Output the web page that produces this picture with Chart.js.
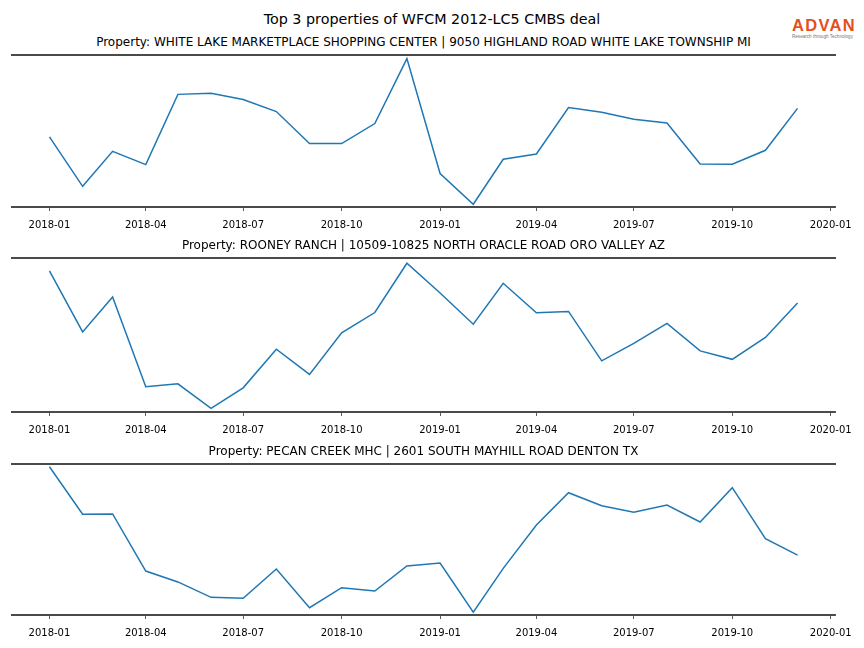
<!DOCTYPE html>
<html>
<head>
<meta charset="utf-8">
<script src="https://cdn.jsdelivr.net/npm/chart.js@4"></script>
<style>
  body { margin: 0; background: #fff; font-family: "DejaVu Sans", sans-serif; }
  #page { position: relative; width: 864px; height: 648px; overflow: hidden; }
  .title { position: absolute; white-space: nowrap; transform: translate(-50%, -50%); color: #000; }
  canvas { position: absolute; left: 0; }
  #logo { position: absolute; left: 792px; top: 16px; width: 66px; }
  #logo .big { font-family: "Liberation Sans", sans-serif; font-weight: bold; font-size: 16.5px; color: #e4501e; letter-spacing: 1.3px; line-height: 18px; }
  #logo .small { font-family: "Liberation Sans", sans-serif; font-size: 4.6px; color: #777; line-height: 6px; white-space: nowrap; }
</style>
</head>
<body>
<div id="page">
  <div class="title" style="left:432px; top:19px; font-size:14.3px;">Top 3 properties of WFCM 2012-LC5 CMBS deal</div>
  <div id="logo"><div class="big">ADVAN</div><div class="small">Research through Technology</div></div>
</div>
<script>
// monthly points, Jan 2018 - Dec 2019
const months = ['2018-01','2018-02','2018-03','2018-04','2018-05','2018-06','2018-07','2018-08','2018-09','2018-10','2018-11','2018-12',
                '2019-01','2019-02','2019-03','2019-04','2019-05','2019-06','2019-07','2019-08','2019-09','2019-10','2019-11','2019-12'];
const tickLabels = ['2018-01','2018-04','2018-07','2018-10','2019-01','2019-04','2019-07','2019-10','2020-01'];

const propertyNames = [
  'Property: WHITE LAKE MARKETPLACE SHOPPING CENTER | 9050 HIGHLAND ROAD WHITE LAKE TOWNSHIP MI',
  'Property: ROONEY RANCH | 10509-10825 NORTH ORACLE ROAD ORO VALLEY AZ',
  'Property: PECAN CREEK MHC | 2601 SOUTH MAYHILL ROAD DENTON TX'
];

// relative visit index (no y ticks on the original)
const whiteLake = [46.1, 13.6, 36.6, 27.9, 74.1, 74.8, 70.7, 62.8, 41.7, 41.7, 54.9, 97.6,
                   22.0, 1.8, 31.4, 34.9, 65.4, 62.3, 57.7, 55.3, 28.3, 28.1, 37.3, 64.9];
const rooneyRanch = [91.6, 52.0, 74.7, 16.4, 18.3, 2.4, 15.7, 40.8, 24.4, 51.4, 64.6, 96.6,
                     77.3, 57.0, 83.6, 64.4, 65.3, 33.2, 44.5, 57.5, 39.7, 34.2, 48.4, 70.8];
const pecanCreek = [98.2, 66.7, 66.9, 29.1, 21.9, 11.7, 11.1, 30.5, 4.8, 18.1, 15.9, 32.5,
                    34.4, 1.8, 30.9, 59.6, 81.0, 72.4, 68.0, 72.8, 61.6, 84.3, 50.5, 39.7];

const seriesList = [whiteLake, rooneyRanch, pecanCreek];

// plot area top / bottom on the page for each panel
const panelTops = [55, 258, 464];
const panelBottoms = [207, 412, 615];

function dayOffset(ym) {
  const [y, m] = ym.split('-').map(Number);
  return (Date.UTC(y, m - 1, 1) - Date.UTC(2018, 0, 1)) / 86400000;
}
const xDays = months.map(dayOffset);
const tickDays = tickLabels.map(dayOffset);

const page = document.getElementById('page');

seriesList.forEach(function(values, i) {
  const top = panelTops[i], bottom = panelBottoms[i];

  const t = document.createElement('div');
  t.className = 'title';
  t.style.left = '423.5px';
  t.style.top = (top - 13) + 'px';
  t.style.fontSize = '12px';
  t.textContent = propertyNames[i];
  page.appendChild(t);

  const padTop = 4, axisH = 32, padBottom = 6;
  const canvas = document.createElement('canvas');
  canvas.width = 864;
  canvas.height = (bottom - top) + padTop + axisH + padBottom;
  canvas.style.top = (top - padTop) + 'px';
  page.appendChild(canvas);

  new Chart(canvas.getContext('2d'), {
    type: 'line',
    data: {
      datasets: [{
        data: values.map((v, k) => ({ x: xDays[k], y: v })),
        borderColor: '#1f77b4',
        borderWidth: 1.5,
        pointRadius: 0,
        tension: 0,
        fill: false
      }]
    },
    options: {
      responsive: false,
      animation: false,
      layout: { padding: { top: padTop, left: 12, right: 29, bottom: padBottom } },
      plugins: { legend: { display: false }, tooltip: { enabled: false } },
      scales: {
        x: {
          type: 'linear',
          min: -35,
          max: 734,
          afterBuildTicks: function(scale) {
            scale.ticks = tickDays.map(d => ({ value: d }));
          },
          ticks: {
            autoSkip: false,
            maxRotation: 0,
            padding: 8,
            color: '#000',
            font: { family: 'DejaVu Sans', size: 10 },
            callback: function(v) {
              const idx = tickDays.indexOf(v);
              return idx >= 0 ? tickLabels[idx] : '';
            }
          },
          grid: { display: true, drawOnChartArea: false, drawTicks: true, tickLength: 4, color: '#333', lineWidth: 0.8 },
          border: { display: true, color: '#4a4a4a', width: 2 }
        },
        x2: {
          type: 'linear',
          position: 'top',
          min: -35,
          max: 734,
          ticks: { display: false },
          grid: { display: false, drawTicks: false },
          border: { display: true, color: '#4a4a4a', width: 2 }
        },
        y: {
          display: false,
          min: 0,
          max: 100
        }
      }
    }
  });
});
</script>
</body>
</html>
